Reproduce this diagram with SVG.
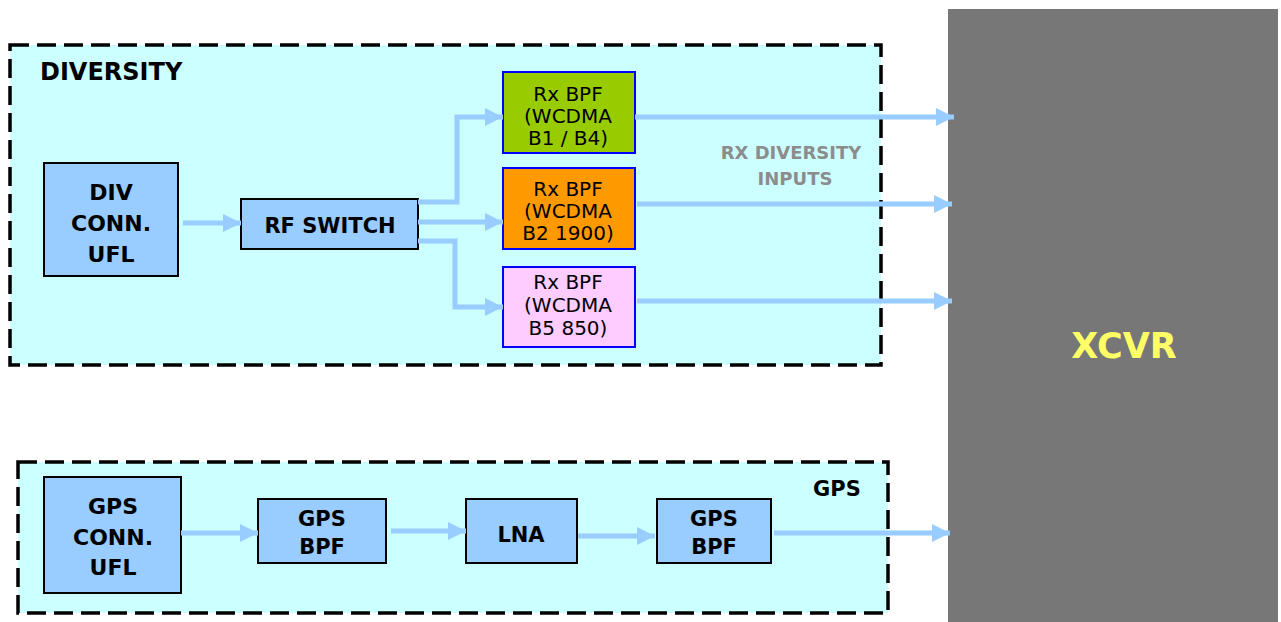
<svg xmlns="http://www.w3.org/2000/svg" width="1281" height="622" viewBox="0 0 1281 622">
<style>
.grp{fill:#ccffff;stroke:#000;stroke-width:3.5;stroke-dasharray:19 8}
.node{fill:#99ccff;stroke:#000;stroke-width:2}
.rx{stroke:#0000ff;stroke-width:2}
.b{font-family:"DejaVu Sans",Verdana,sans-serif;font-weight:bold;fill:#000}
.n{font-family:"DejaVu Sans",Verdana,sans-serif;font-size:20px;fill:#000}
.c{text-anchor:middle}
.conn{fill:none;stroke:#99ccff;stroke-width:5}
</style>
<defs>
<marker id="ah" markerUnits="userSpaceOnUse" markerWidth="18" markerHeight="18" refX="18" refY="9" orient="auto">
<path d="M0,0 L18,9 L0,18 z" fill="#99ccff"/>
</marker>
</defs>
<rect width="1281" height="622" fill="#fff"/>
<g id="diversity-group">
<rect class="grp" x="10" y="45" width="871" height="320"/>
<text class="b" x="40" y="80" font-size="24">DIVERSITY</text>
</g>
<g id="gps-group">
<rect class="grp" x="18" y="462" width="870" height="151"/>
<text class="b" x="813" y="496" font-size="21">GPS</text>
</g>
<g id="xcvr">
<rect x="948" y="9" width="330" height="620" fill="#777777"/>
<text class="b c" x="1124" y="358" font-size="35" style="fill:#ffff66">XCVR</text>
</g>
<g id="div-conn">
<rect class="node" x="44" y="163" width="134" height="113"/>
<text class="b c" font-size="22" x="111" y="200">DIV</text>
<text class="b c" font-size="22" x="111" y="231">CONN.</text>
<text class="b c" font-size="22" x="111" y="262">UFL</text>
</g>
<g id="rf-switch">
<rect class="node" x="241" y="199" width="177" height="50"/>
<text class="b c" font-size="21" x="330" y="233">RF SWITCH</text>
</g>
<g id="rx-bpf-b1b4">
<rect class="rx" x="503" y="72" width="132" height="81" fill="#99cc00"/>
<text class="n c" x="568" y="101">Rx BPF</text>
<text class="n c" x="568" y="123">(WCDMA</text>
<text class="n c" x="568" y="145">B1 / B4)</text>
</g>
<g id="rx-bpf-b2">
<rect class="rx" x="503" y="168" width="132" height="81" fill="#ff9900"/>
<text class="n c" x="568" y="196">Rx BPF</text>
<text class="n c" x="568" y="218">(WCDMA</text>
<text class="n c" x="568" y="240">B2 1900)</text>
</g>
<g id="rx-bpf-b5">
<rect class="rx" x="503" y="267" width="132" height="80" fill="#ffccff"/>
<text class="n c" x="568" y="289">Rx BPF</text>
<text class="n c" x="568" y="312">(WCDMA</text>
<text class="n c" x="568" y="335">B5 850)</text>
</g>
<g id="rx-diversity-label">
<text class="b c" font-size="18" x="791" y="159" style="fill:#8c8c8c">RX DIVERSITY</text>
<text class="b c" font-size="18" x="795" y="185" style="fill:#8c8c8c">INPUTS</text>
</g>
<g id="gps-conn">
<rect class="node" x="44" y="477" width="137" height="116"/>
<text class="b c" font-size="22" x="113" y="514">GPS</text>
<text class="b c" font-size="22" x="113" y="545">CONN.</text>
<text class="b c" font-size="22" x="113" y="575">UFL</text>
</g>
<g id="gps-bpf-1">
<rect class="node" x="258" y="499" width="128" height="64"/>
<text class="b c" font-size="21" x="322" y="526">GPS</text>
<text class="b c" font-size="21" x="322" y="554">BPF</text>
</g>
<g id="lna">
<rect class="node" x="466" y="499" width="111" height="64"/>
<text class="b c" font-size="21" x="521" y="542">LNA</text>
</g>
<g id="gps-bpf-2">
<rect class="node" x="657" y="499" width="114" height="64"/>
<text class="b c" font-size="21" x="714" y="526">GPS</text>
<text class="b c" font-size="21" x="714" y="554">BPF</text>
</g>
<g id="connectors">
<path class="conn" marker-end="url(#ah)" d="M183,223 H241"/>
<path class="conn" marker-end="url(#ah)" d="M418,202 H457 V117 H503"/>
<path class="conn" marker-end="url(#ah)" d="M418,222 H503"/>
<path class="conn" marker-end="url(#ah)" d="M418,241 H455 V307 H503"/>
<path class="conn" marker-end="url(#ah)" d="M635,117 H954"/>
<path class="conn" marker-end="url(#ah)" d="M637,204 H952"/>
<path class="conn" marker-end="url(#ah)" d="M637,301 H952"/>
<path class="conn" marker-end="url(#ah)" d="M181,533 H258"/>
<path class="conn" marker-end="url(#ah)" d="M391,531 H466"/>
<path class="conn" marker-end="url(#ah)" d="M578,536 H655"/>
<path class="conn" marker-end="url(#ah)" d="M774,533 H950"/>
</g>
</svg>
